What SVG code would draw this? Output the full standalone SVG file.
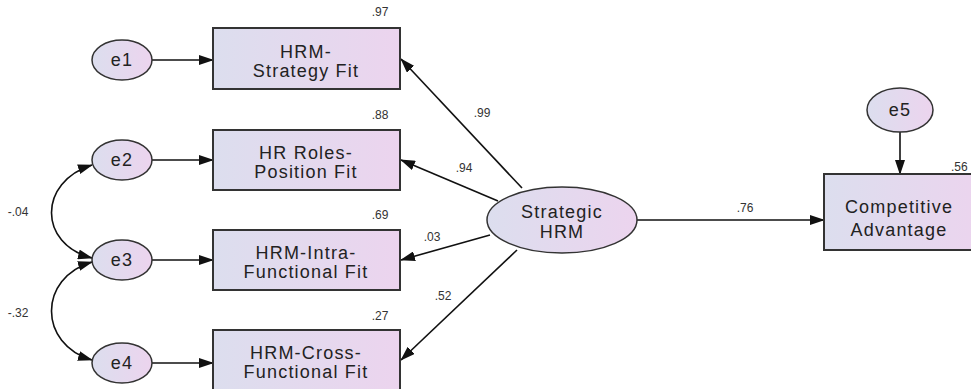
<svg xmlns="http://www.w3.org/2000/svg" width="971" height="389" viewBox="0 0 971 389">
<defs>
<linearGradient id="g" x1="0" y1="0" x2="1" y2="0">
<stop offset="0" stop-color="#dcdeee"/>
<stop offset="1" stop-color="#ecd4ee"/>
</linearGradient>
<marker id="ah" markerWidth="15" markerHeight="10" refX="14" refY="5" orient="auto" markerUnits="userSpaceOnUse">
<path d="M0,0 L15,5 L0,10 Z" fill="#111"/>
</marker>
<marker id="as" markerWidth="15" markerHeight="10" refX="1" refY="5" orient="auto" markerUnits="userSpaceOnUse">
<path d="M15,0 L0,5 L15,10 Z" fill="#111"/>
</marker>
</defs>
<style>
.box{fill:url(#g);stroke:#333;stroke-width:2}
.ell{fill:url(#g);stroke:#333;stroke-width:1.5}
.t{font-family:"Liberation Sans",Arial,sans-serif;font-size:18px;letter-spacing:1.2px;fill:#222;text-anchor:middle}
.lb{font-family:"Liberation Sans",Arial,sans-serif;font-size:12px;fill:#333;text-anchor:middle}
.c{stroke:#111;stroke-width:1.6;fill:none;marker-end:url(#ah)}
.cv{stroke:#111;stroke-width:1.6;fill:none;marker-end:url(#ah);marker-start:url(#as)}
</style>
<rect width="971" height="389" fill="#fff"/>
<g id="connectors">
<line class="c" x1="152" y1="60" x2="213" y2="60"/>
<line class="c" x1="152" y1="160" x2="213" y2="160"/>
<line class="c" x1="152" y1="260" x2="213" y2="260"/>
<line class="c" x1="152" y1="363" x2="213" y2="363"/>
<line class="c" x1="522" y1="188" x2="401" y2="59"/>
<line class="c" x1="498" y1="201" x2="401" y2="160"/>
<line class="c" x1="490" y1="235" x2="401" y2="260"/>
<line class="c" x1="517" y1="250" x2="401" y2="360"/>
<line class="c" x1="637" y1="220" x2="824" y2="220"/>
<line class="c" x1="900" y1="132" x2="900" y2="174"/>
<path class="cv" d="M92,165 C38,182 38,244 92,258"/>
<path class="cv" d="M92,262 C38,278 38,344 92,360"/>
<text class="lb" x="18" y="216">-.04</text>
<text class="lb" x="18" y="317">-.32</text>
<text class="lb" x="482" y="117">.99</text>
<text class="lb" x="464" y="172">.94</text>
<text class="lb" x="432" y="241">.03</text>
<text class="lb" x="443" y="300">.52</text>
<text class="lb" x="745" y="212">.76</text>
</g>
<g id="e1"><ellipse class="ell" cx="122" cy="60" rx="30" ry="20"/><text class="t" x="122" y="66">e1</text></g>
<g id="e2"><ellipse class="ell" cx="122" cy="160" rx="30" ry="20"/><text class="t" x="122" y="166">e2</text></g>
<g id="e3"><ellipse class="ell" cx="122" cy="260" rx="30" ry="20"/><text class="t" x="122" y="266">e3</text></g>
<g id="e4"><ellipse class="ell" cx="122" cy="363" rx="30" ry="20"/><text class="t" x="122" y="369">e4</text></g>
<g id="e5"><ellipse class="ell" cx="900" cy="110" rx="33" ry="22"/><text class="t" x="900" y="116">e5</text></g>
<g id="hrm-strategy">
<rect class="box" x="213" y="28" width="187" height="61"/>
<text class="t" x="306" y="58">HRM-</text><text class="t" x="306" y="77">Strategy Fit</text>
<text class="lb" x="380" y="16">.97</text>
</g>
<g id="hr-roles">
<rect class="box" x="213" y="130" width="187" height="60"/>
<text class="t" x="306" y="159">HR Roles-</text><text class="t" x="306" y="178">Position Fit</text>
<text class="lb" x="380" y="119">.88</text>
</g>
<g id="hrm-intra">
<rect class="box" x="213" y="230" width="187" height="60"/>
<text class="t" x="306" y="259">HRM-Intra-</text><text class="t" x="306" y="278">Functional Fit</text>
<text class="lb" x="380" y="219">.69</text>
</g>
<g id="hrm-cross">
<rect class="box" x="213" y="330" width="187" height="60"/>
<text class="t" x="306" y="359">HRM-Cross-</text><text class="t" x="306" y="378">Functional Fit</text>
<text class="lb" x="380" y="320">.27</text>
</g>
<g id="strategic-hrm">
<ellipse class="ell" cx="562" cy="220" rx="75" ry="33"/>
<text class="t" x="562" y="218">Strategic</text><text class="t" x="562" y="238">HRM</text>
</g>
<g id="competitive">
<rect class="box" x="824" y="174" width="160" height="76"/>
<text class="t" x="899" y="213">Competitive</text><text class="t" x="899" y="236">Advantage</text>
<text class="lb" x="951" y="171" style="text-anchor:start">.56</text>
</g>
</svg>
